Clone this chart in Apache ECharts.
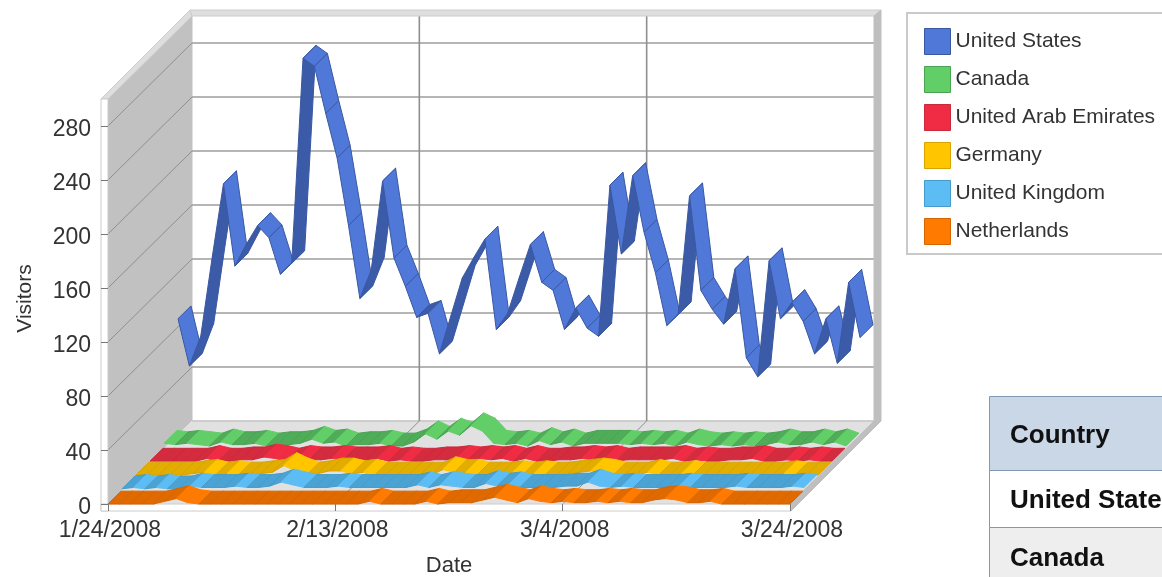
<!DOCTYPE html>
<html>
<head>
<meta charset="utf-8">
<style>html,body{margin:0;padding:0;background:#fff;overflow:hidden}#c{width:1162px;height:577px}</style>
<script src="https://cdn.jsdelivr.net/npm/echarts@6/dist/echarts.min.js"></script>
</head>
<body>
<div id="c"></div>
<script>
// ---- data ----
var countries = ['United States','Canada','United Arab Emirates','Germany','United Kingdom','Netherlands'];
var tickDates = ['1/24/2008','2/13/2008','3/4/2008','3/24/2008'];
var unitedStates = [86,51,73,131,186,125,141,155,146,119,
  127,279,273,238,205,155,101,122,188,131,
  110,87,90,60,88,116,131,145,78,90,
  116,141,113,107,78,94,79,73,185,134,
  192,150,120,81,89,177,107,93,82,123,
  57,43,129,86,98,84,60,86,53,113,72];
var canada = [4,3,4,3,2,5,3,3,4,2,
  3,3,4,7,4,5,2,3,3,4,
  2,2,5,11,7,13,10,17,13,4,
  3,4,2,6,3,5,2,4,4,4,
  4,3,4,3,4,2,5,3,2,3,
  2,3,2,3,5,3,3,5,3,5,2];
var uae = [1,1,1,1,1,3,1,1,2,2,
  4,3,1,3,2,2,3,2,2,2,
  3,1,2,1,1,2,2,3,2,3,
  2,3,1,3,1,1,2,2,3,2,
  3,1,2,2,2,2,3,1,2,1,
  1,2,2,3,1,1,2,1,2,1,1];
var germany = [1,1,1,1,1,2,3,1,2,1,
  1,2,3,8,4,1,2,4,4,2,
  3,1,1,1,1,1,1,5,3,3,
  1,1,1,2,1,2,1,1,2,3,
  4,3,1,1,1,3,1,1,2,1,
  1,1,1,1,1,1,1,2,1,1,1];
var unitedKingdom = [1,2,1,2,1,1,3,2,2,2,
  3,2,2,3,6,4,2,2,2,3,
  2,2,2,2,2,2,4,2,4,3,
  2,2,5,3,4,2,2,2,2,3,
  3,6,3,2,3,2,2,2,2,3,
  2,2,2,2,3,2,2,2,2,3,2];
var netherlands = [0,0,0,0,0,2,4,1,0,0,
  0,0,0,0,0,0,0,0,0,0,
  0,0,0,2,0,0,0,0,2,0,
  1,1,1,3,5,3,1,4,2,1,
  2,1,1,2,1,2,1,1,3,4,
  3,1,1,2,0,0,0,0,0,0,0];
var yTicks = [0,40,80,120,160,200,240,280];

// ---- dates for the category axis ----
var dates = [];
(function(){
  var d = new Date(2008,0,24);
  for (var i=0;i<=60;i++){ dates.push((d.getMonth()+1)+'/'+d.getDate()+'/'+d.getFullYear()); d.setDate(d.getDate()+1); }
})();
var seriesValues = [unitedStates,canada,uae,germany,unitedKingdom,netherlands];
var lightCols = ['#4f78d8','#62ce68','#f02c44','#ffc600','#5cbcf4','#ff7a00'];
var darkCols  = ['#3b5ba8','#4fac58','#d42b3e','#e3ad00','#4ba3d4','#e06900'];
var edgeCols  = ['#3a58a2','#4aa353','#c9293b','#d6a300','#479bca','#d66400'];
var layerOf   = [5,4,3,2,1,0];
var LAYER = 14, RIBBON = 13, WALL = 84, SKEW = 0.988, THICK = 7;
var FONT = '"Liberation Sans", Arial, sans-serif';
var LAST = dates.length-1, TOP = 300;

function shift(pt,d){ return [pt[0]+d, pt[1]-d*SKEW]; }
function add(pt,a,b){ return [pt[0]+a, pt[1]+b]; }

function ribbon(idx){
  return function(params, api){
    var i = api.value(0), a = api.value(1), b = api.value(2);
    var d0 = layerOf[idx]*LAYER, d1 = d0+RIBBON;
    var p0 = api.coord([i,a]), p1 = api.coord([i+1,b]);
    var falling = b<a;
    return {
      type:'polygon',
      shape:{points:[shift(p0,d0),shift(p0,d1),shift(p1,d1),shift(p1,d0)]},
      style:{fill: falling ? lightCols[idx] : darkCols[idx],
             stroke: (falling && idx>0) ? lightCols[idx] : edgeCols[idx], lineWidth:1}
    };
  };
}

function frame(params, api){
  var f00 = api.coord([0,0]), f0t = api.coord([0,TOP]), fe0 = api.coord([LAST,0]), fet = api.coord([LAST,TOP]);
  var b00 = shift(f00,WALL), b0t = shift(f0t,WALL), be0 = shift(fe0,WALL), bet = shift(fet,WALL);
  var ch = [];
  function poly(pts,fill,stroke){ ch.push({type:'polygon',shape:{points:pts},style:{fill:fill,stroke:stroke||fill,lineWidth:1}}); }
  function line(a,b,col,w){ ch.push({type:'line',shape:{x1:a[0],y1:a[1],x2:b[0],y2:b[1]},style:{stroke:col,lineWidth:w}}); }
  poly([b0t,bet,be0,b00],'#ffffff');
  poly([f00,f0t,b0t,b00],'#c1c1c1');
  poly([f00,b00,be0,fe0],'#e1e1e1');
  line(b00,be0,'#c4c4c4',1.5);
  yTicks.slice(1).forEach(function(v){
    var f = api.coord([0,v]), b = shift(f,WALL), e = shift(api.coord([LAST,v]),WALL);
    line(f,b,'#8f8f8f',1);
    line(b,e,'#9c9c9c',1.6);
  });
  tickDates.slice(1,3).forEach(function(t){
    var i = dates.indexOf(t), f = api.coord([i,0]), b = shift(f,WALL), u = shift(api.coord([i,TOP]),WALL);
    line(f,b,'#8f8f8f',1);
    line(b,u,'#8f8f8f',1.6);
  });
  // wall rims
  poly([add(f0t,-THICK,0),add(b0t,-2,-6),b0t,f0t],'#dedede','#cccccc');
  poly([add(b0t,-2,-6),add(bet,THICK,-6),bet,b0t],'#dedede','#cccccc');
  poly([bet,add(bet,THICK,-6),add(be0,THICK,0),be0],'#bfbfbf');
  poly([be0,add(be0,THICK,0),add(fe0,1,THICK),fe0],'#bfbfbf');
  // front strips
  poly([add(f0t,-THICK,0),f0t,add(f00,0,THICK),add(f00,-THICK,THICK)],'#ffffff','#cccccc');
  poly([add(f00,-THICK,0),add(fe0,1,0),add(fe0,1,THICK),add(f00,-THICK,THICK)],'#ffffff','#cccccc');
  return {type:'group',children:ch};
}

var series = [{type:'custom',silent:true,z:1,clip:false,renderItem:frame,data:[[0,0]],encode:{x:0,y:1},tooltip:{show:false}}];
countries.forEach(function(name,k){
  var vals = seriesValues[k], items = [];
  for (var i=0;i<vals.length-1;i++) items.push([i,vals[i],vals[i+1]]);
  series.push({type:'custom',name:name,z:2+k,clip:false,renderItem:ribbon(k),data:items,encode:{x:0,y:1},itemStyle:{color:lightCols[k]}});
});

var chart = echarts.init(document.getElementById('c'),null,{renderer:'canvas',width:1162,height:577});
chart.setOption({
  animation:false,
  backgroundColor:'#ffffff',
  textStyle:{fontFamily:FONT},
  grid:{left:108,top:99,width:682,height:405,containLabel:false,outerBoundsMode:'none'},
  xAxis:{type:'category',data:dates,boundaryGap:false,z:10,
    name:'Date',nameLocation:'middle',nameGap:51,
    nameTextStyle:{fontSize:22,color:'#333',fontFamily:FONT},
    axisLine:{show:false},
    axisTick:{show:true,interval:19,alignWithLabel:true,length:7,lineStyle:{color:'#777'}},
    axisLabel:{show:true,interval:19,margin:15,fontSize:23,color:'#333',fontFamily:FONT,hideOverlap:false,padding:[0,0,0,4]},
    splitLine:{show:false}},
  yAxis:{type:'value',min:0,max:TOP,interval:40,z:10,
    name:'Visitors',nameLocation:'middle',nameGap:72,nameRotate:90,
    nameTextStyle:{fontSize:21,color:'#333',fontFamily:FONT,padding:[0,0,0,6]},
    axisLine:{show:false},
    axisTick:{show:true,length:7,lineStyle:{color:'#777'}},
    axisLabel:{show:true,margin:17,fontSize:23,color:'#333',fontFamily:FONT,showMaxLabel:false,verticalAlign:'top',lineHeight:8},
    splitLine:{show:false}},
  legend:{orient:'vertical',left:924,top:28,padding:0,itemWidth:26,itemHeight:26,itemGap:11,icon:'rect',
    data:countries.map(function(n,k){return {name:n,itemStyle:{color:lightCols[k],borderColor:edgeCols[k],borderWidth:1}};}),
    selectedMode:false,
    textStyle:{fontSize:21,color:'#333',fontFamily:FONT}},
  graphic:[
    {type:'rect',z:0,shape:{x:907,y:13,width:270,height:241},style:{fill:'#fff',stroke:'#c9c9c9',lineWidth:2}},
    {type:'rect',z:0,shape:{x:989.5,y:396.5,width:190,height:74},style:{fill:'#c9d7e7',stroke:'#7f99b3',lineWidth:1}},
    {type:'rect',z:0,shape:{x:989.5,y:470.5,width:190,height:57},style:{fill:'#ffffff',stroke:'#7f99b3',lineWidth:1}},
    {type:'rect',z:0,shape:{x:989.5,y:527.5,width:190,height:60},style:{fill:'#eeeeee',stroke:'#7f99b3',lineWidth:1}},
    {type:'text',z:1,x:1010,y:436,style:{text:'Country',fontFamily:FONT,fontWeight:'bold',fontSize:26,fill:'#111',verticalAlign:'middle'}},
    {type:'text',z:1,x:1010,y:501,style:{text:'United States',fontFamily:FONT,fontWeight:'bold',fontSize:26,fill:'#111',verticalAlign:'middle'}},
    {type:'text',z:1,x:1010,y:559,style:{text:'Canada',fontFamily:FONT,fontWeight:'bold',fontSize:26,fill:'#111',verticalAlign:'middle'}}
  ],
  series:series
});
</script>
</body>
</html>
